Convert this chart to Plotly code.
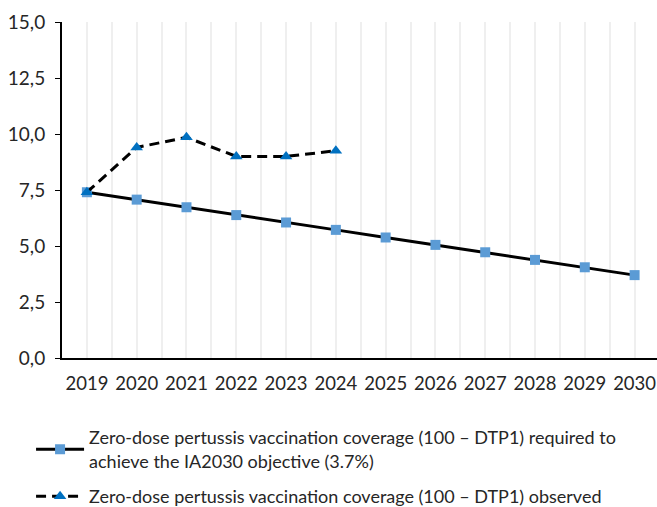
import plotly.graph_objects as go

years = ["2019", "2020", "2021", "2022", "2023", "2024",
         "2025", "2026", "2027", "2028", "2029", "2030"]
required = [7.4, 7.07, 6.73, 6.38, 6.05, 5.72, 5.38, 5.05, 4.72, 4.38, 4.05, 3.7]
observed_years = ["2019", "2020", "2021", "2022", "2023", "2024"]
observed = [7.4, 9.4, 9.85, 9.0, 9.0, 9.25]

required_name = ("Zero-dose pertussis vaccination coverage (100 \u2013 DTP1) required to"
                 "<br>achieve the IA2030 objective (3.7%)")
observed_name = "Zero-dose pertussis vaccination coverage (100 \u2013 DTP1) observed"

FONT = "Lato"
TEXT = "#262626"
idx = {y: i for i, y in enumerate(years)}

fig = go.Figure()
fig.add_trace(go.Scatter(
    x=[idx[y] for y in years], y=required, name=required_name,
    legendgroup="required",
    mode="lines+markers",
    line=dict(color="black", width=3),
    marker=dict(symbol="square", size=10, color="#5b9bd5"),
))
fig.add_trace(go.Scatter(
    x=[idx[y] for y in observed_years], y=observed, name=observed_name,
    legendgroup="observed",
    mode="lines+markers",
    line=dict(color="black", width=3, dash="10px,6px"),
    marker=dict(symbol="triangle-up", size=11, color="#0070c0"),
))

fig.update_layout(
    width=657, height=507,
    margin=dict(l=62, r=0, t=22, b=149, autoexpand=False),
    paper_bgcolor="white", plot_bgcolor="white",
    separators=",.",
    font=dict(family=FONT, size=17, color=TEXT),
    showlegend=True,
    legend=dict(
        orientation="v", x=-0.052, xanchor="left",
        y=-0.468, yanchor="bottom",
        font=dict(family=FONT, size=18, color=TEXT),
        itemwidth=48, tracegroupgap=9,
    ),
)
fig.update_xaxes(
    range=[-0.5, 11.45],
    tickmode="array", tickvals=list(range(len(years))), ticktext=years,
    showgrid=True, gridcolor="#efefef", gridwidth=2,
    minor=dict(tickmode="linear", tick0=-0.5, dtick=0.5, showgrid=True,
               gridcolor="#efefef", gridwidth=2),
    showline=True, linecolor="black", linewidth=2,
    ticks="", ticklen=0, zeroline=False,
    ticklabelstandoff=8,
    tickfont=dict(family=FONT, size=18.5, color=TEXT),
)
fig.update_yaxes(
    range=[0, 15], tickmode="linear", tick0=0, dtick=2.5, tickformat=".1f",
    showgrid=False, zeroline=False,
    showline=True, linecolor="black", linewidth=2,
    ticks="outside", ticklen=5, tickcolor="black", tickwidth=1,
    ticklabelstandoff=6,
    tickfont=dict(family=FONT, size=19, color=TEXT),
)

fig.write_html("out.html")
